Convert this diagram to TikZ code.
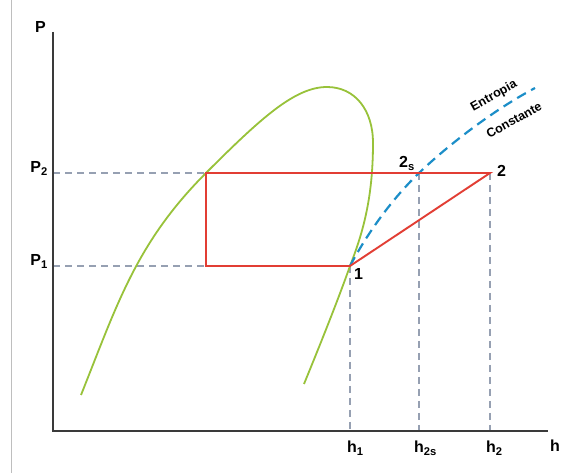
\documentclass[tikz,border=0pt]{standalone}
\usepackage{fontspec}
\setmainfont{Liberation Sans}
\usepackage{xcolor}
\usetikzlibrary{positioning,calc}
\definecolor{satgreen} {RGB}{152,194,58}
\definecolor{cyclered} {RGB}{226,62,52}
\definecolor{isoblue}  {RGB}{28,142,200}
\definecolor{guidegray}{RGB}{150,160,178}
\definecolor{axisgray} {RGB}{58,58,58}
\definecolor{framegray}{RGB}{190,190,190}
\tikzset{
  axisline/.style ={draw=axisgray, line width=1.6pt},
  satcurve/.style ={draw=satgreen, line width=1.8pt},
  cycleline/.style={draw=cyclered, line width=1.9pt, line join=miter},
  guideline/.style={draw=guidegray, line width=1.1pt, dash pattern=on 7pt off 5pt},
  isoline/.style  ={draw=isoblue, line width=2.2pt, dash pattern=on 10pt off 6pt},
  lbl/.style      ={font=\fontsize{16}{18}\selectfont\bfseries, inner sep=0pt},
  slbl/.style     ={font=\fontsize{12.5}{14}\selectfont\bfseries, inner sep=0pt, rotate=29},
}
\newcommand\lsub[1]{\textsubscript{#1}}

\begin{document}
\begin{tikzpicture}[x=1pt,y=-1pt]
  \useasboundingbox[fill=white] (0,0) rectangle (574,473);
  \draw[framegray, line width=0.8pt] (11,0) -- (11,473);
  % points of the cycle
  \coordinate (o)  at (53,431);
  \coordinate (ya) at (53,32);
  \coordinate (xa) at (548,431);
  \coordinate (c3) at (206,173);
  \coordinate (c4) at (206,266);
  \coordinate (p1) at (350,266);
  \coordinate (p2s) at (419,173);
  \coordinate (p2) at (490,173);
  \coordinate (yP2) at (53,173);
  \coordinate (yP1) at (53,266);
  \coordinate (xh1) at (350,431);
  \coordinate (xh2s) at (419,431);
  \coordinate (xh2) at (490,431);
  % guides
  \draw[guideline] (yP2) -- (c3);
  \draw[guideline] (yP1) -- (c4);
  \draw[guideline] (p1) -- (xh1);
  \draw[guideline] (p2s) -- (xh2s);
  \draw[guideline] (p2) -- (xh2);
  % axes
  \draw[axisline] (ya) -- (o) -- (xa);
  % saturation dome
  \draw[satcurve] (81,395) .. controls (117,305) and (136,243) .. (c3)
    .. controls (261,118) and (295,87) .. (327,87)
    .. controls (355,87) and (373,110) .. (373,143)
    .. controls (373,200) and (362,235) .. (p1)
    .. controls (338,300) and (320,345) .. (304,384);
  % isentropic line
  \draw[isoline] (p1) .. controls (368,232) and (393,198) .. (p2s)
    .. controls (445,148) and (490,112) .. (535,88);
  % cycle
  \draw[cycleline] (p1) -- (c4) -- (c3) -- (p2) -- cycle;
  % labels
  \node[lbl, anchor=base] (lP) at (40.5,33) {P};
  \node[lbl, anchor=base east] (lP2) at (48,173) {P\lsub{2}};
  \node[lbl, anchor=base east] (lP1) at (48,266) {P\lsub{1}};
  \node[lbl, anchor=base west] (lh1) at (347,453) {h\lsub{1}};
  \node[lbl, anchor=base west] (lh2s) at (414,453) {h\lsub{2s}};
  \node[lbl, anchor=base west] (lh2) at (486,453) {h\lsub{2}};
  \node[lbl, anchor=base west] (lh) at (550,452) {h};
  \node[lbl, anchor=base west] (l1) at (354,280) {1};
  \node[lbl, anchor=base west] (l2) at (497,177) {2};
  \node[lbl, anchor=base west] (l2s) at (399,168) {2\lsub{s}};
  \node[slbl] (lent) at (494,96) {Entropia};
  \node[slbl] (lcon) at (514,120) {Constante};
\end{tikzpicture}
\end{document}
